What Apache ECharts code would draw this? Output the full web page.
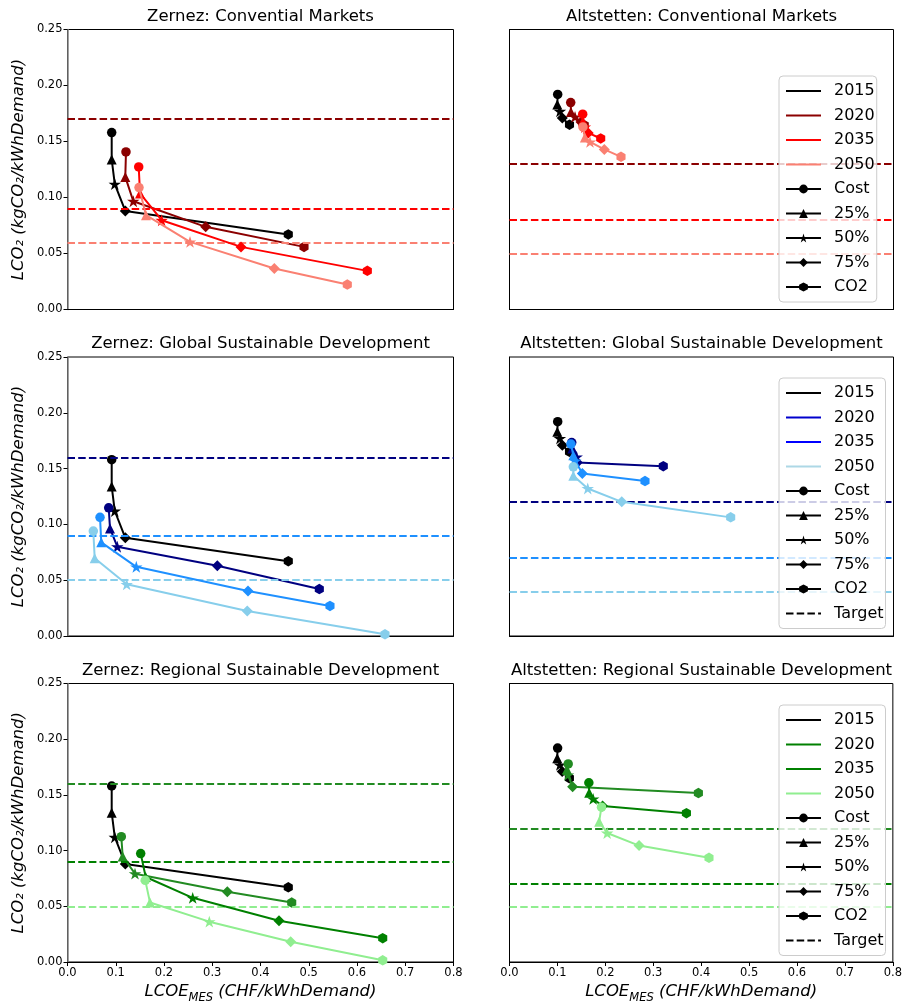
<!DOCTYPE html>
<html><head><meta charset="utf-8">
<script src="https://cdn.jsdelivr.net/npm/echarts@6/dist/echarts.min.js"></script>
<style>html,body{margin:0;padding:0;background:#fff}#c{width:905px;height:1005px}</style>
</head><body><div id="c"></div>
<script>
// ---------- data ----------
const years = ['2015', '2020', '2035', '2050'];
const steps = ['Cost', '25%', '50%', '75%', 'CO2'];
const xTicks = [0, 0.1, 0.2, 0.3, 0.4, 0.5, 0.6, 0.7, 0.8];
const yTicks = [0, 0.05, 0.10, 0.15, 0.20, 0.25];
const titles = [
  'Zernez: Convential Markets', 'Altstetten: Conventional Markets',
  'Zernez: Global Sustainable Development', 'Altstetten: Global Sustainable Development',
  'Zernez: Regional Sustainable Development', 'Altstetten: Regional Sustainable Development'
];

// points [LCOE, LCO2] in order Cost, 25%, 50%, 75%, CO2
const zernez2015 = [[0.0916,0.158],[0.0916,0.134],[0.098,0.112],[0.1198,0.088],[0.4576,0.067]];
const altstetten2015 = [[0.1004,0.192],[0.0996,0.183],[0.105,0.177],[0.110,0.171],[0.125,0.165]];

const zernezConv2020 = [[0.1212,0.1407],[0.1198,0.1184],[0.1364,0.0967],[0.2864,0.0738],[0.4902,0.0559]];
const zernezConv2035 = [[0.1476,0.1273],[0.1503,0.1036],[0.1952,0.0797],[0.3596,0.0559],[0.6214,0.0345]];
const zernezConv2050 = [[0.1482,0.1089],[0.1627,0.0842],[0.2539,0.0604],[0.4286,0.0366],[0.5799,0.0223]];
const zernezConvTargets = [0.1675, 0.0938, 0.0583];

const altConv2020 = [[0.1275,0.1848],[0.128,0.1764],[0.1365,0.172],[0.149,0.1675],[0.1558,0.1646]];
const altConv2035 = [[0.1525,0.1744],[0.153,0.168],[0.157,0.163],[0.164,0.1577],[0.190,0.1527]];
const altConv2050 = [[0.153,0.163],[0.157,0.1536],[0.1677,0.1497],[0.1975,0.1429],[0.2323,0.1363]];
const altConvTargets = [0.1324, 0.0795, 0.0496];

const zernezGlob2020 = [[0.0854,0.1149],[0.0881,0.0964],[0.1032,0.080],[0.3105,0.0629],[0.5219,0.0421]];
const zernezGlob2035 = [[0.0674,0.1063],[0.070,0.0839],[0.1426,0.062],[0.3741,0.0403],[0.544,0.0269]];
const zernezGlob2050 = [[0.0535,0.094],[0.0564,0.0696],[0.1227,0.0463],[0.3726,0.0224],[0.658,0.0015]];
const zernezGlobTargets = [0.157, 0.0866, 0.048];

const altGlob2020 = [[0.1296,0.1734],[0.131,0.168],[0.140,0.1605],[0.1413,0.1555],[0.3204,0.1522]];
const altGlob2035 = [[0.128,0.172],[0.133,0.162],[0.137,0.157],[0.1517,0.1456],[0.2823,0.1388]];
const altGlob2050 = [[0.133,0.1516],[0.133,0.1435],[0.163,0.1322],[0.2338,0.1202],[0.4608,0.1063]];
const altGlobTargets = [0.1233, 0.0701, 0.0391];

const zernezReg2020 = [[0.1115,0.1125],[0.1144,0.0947],[0.1399,0.0793],[0.3312,0.063],[0.4647,0.0534]];
const zernezReg2035 = [[0.1517,0.0973],[0.1621,0.0763],[0.2595,0.0576],[0.4383,0.0371],[0.6533,0.0214]];
const zernezReg2050 = [[0.1612,0.0733],[0.171,0.0534],[0.2939,0.0362],[0.4626,0.0181],[0.6533,0.0015]];
const zernezRegTargets = [0.156, 0.0884, 0.050];

const altReg2020 = [[0.1225,0.1778],[0.120,0.1728],[0.122,0.168],[0.1317,0.1573],[0.3942,0.1516]];
const altReg2035 = [[0.1656,0.1609],[0.1663,0.152],[0.1746,0.1464],[0.1942,0.140],[0.3692,0.1336]];
const altReg2050 = [[0.192,0.139],[0.187,0.126],[0.2038,0.1158],[0.2704,0.1045],[0.4163,0.0935]];
const altRegTargets = [0.1244, 0.0736, 0.046];

// ---------- styles ----------
const redColors = ['#000000', '#8b0000', '#ff0000', '#fa8072'];
const blueColors = ['#000000', '#000080', '#1e90ff', '#87ceeb'];
const greenColors = ['#000000', '#228b22', '#008000', '#90ee90'];
const redLegend = ['#000000', '#8b0000', '#ff0000', '#fa8072'];
const blueLegend = ['#000000', '#0000cd', '#0000ff', '#add8e6'];
const greenLegend = ['#000000', '#008000', '#008000', '#90ee90'];

const STAR = 'path://M0,-1L0.2245,-0.309L0.9511,-0.309L0.3633,0.118L0.5878,0.809L0,0.382L-0.5878,0.809L-0.3633,0.118L-0.9511,-0.309L-0.2245,-0.309Z';
const HEX = 'path://M0,-1L0.866,-0.5L0.866,0.5L0,1L-0.866,0.5L-0.866,-0.5Z';
const SYMBOLS = ['circle', 'triangle', STAR, 'diamond', HEX];
const SIZES = [9.5, 10, 12.5, 11, 10.5];
const DASH = [7.5, 3.2];
const FONT = 'DejaVu Sans';

const panels = [
  { data: [zernez2015, zernezConv2020, zernezConv2035, zernezConv2050], targets: zernezConvTargets, colors: redColors },
  { data: [altstetten2015, altConv2020, altConv2035, altConv2050], targets: altConvTargets, colors: redColors, legend: redLegend, target: false },
  { data: [zernez2015, zernezGlob2020, zernezGlob2035, zernezGlob2050], targets: zernezGlobTargets, colors: blueColors },
  { data: [altstetten2015, altGlob2020, altGlob2035, altGlob2050], targets: altGlobTargets, colors: blueColors, legend: blueLegend, target: true },
  { data: [zernez2015, zernezReg2020, zernezReg2035, zernezReg2050], targets: zernezRegTargets, colors: greenColors },
  { data: [altstetten2015, altReg2020, altReg2035, altReg2050], targets: altRegTargets, colors: greenColors, legend: greenLegend, target: true }
];

const gridTops = [29.5, 357, 683.5];
const gridHeights = [280, 279, 280.5];
const gridLefts = [67.5, 509.5];
const gridWidths = [386, 384];
const legendTops = [76, 378, 705];

const grids = [], xAxes = [], yAxes = [], series = [], legends = [], graphics = [];

panels.forEach((p, gi) => {
  const row = Math.floor(gi / 2), col = gi % 2;
  const bottom = row === 2, left = col === 0;
  grids.push({ left: gridLefts[col], top: gridTops[row], width: gridWidths[col], height: gridHeights[row],
    show: true, borderColor: '#000', borderWidth: 1, backgroundColor: 'transparent' });
  xAxes.push({
    type: 'value', gridIndex: gi, min: xTicks[0], max: xTicks[xTicks.length - 1], interval: 0.1,
    axisLine: { show: true, onZero: false, lineStyle: { color: '#000', width: 1 } },
    axisTick: { show: bottom, length: 4, lineStyle: { color: '#000' } },
    axisLabel: { show: bottom, formatter: v => v.toFixed(1), fontSize: 11.5, color: '#000', fontFamily: FONT, margin: 5 },
    splitLine: { show: false },
    name: bottom ? '{a|LCOE}{b|MES}{a| (CHF/kWhDemand)}' : '',
    nameLocation: 'middle', nameGap: 21,
    nameTextStyle: { rich: {
      a: { fontSize: 16.5, fontStyle: 'italic', fontFamily: FONT, color: '#000', verticalAlign: 'top' },
      b: { fontSize: 11.5, fontStyle: 'italic', fontFamily: FONT, color: '#000', verticalAlign: 'bottom', padding: [9, 0, 0, 0] }
    } }
  });
  yAxes.push({
    type: 'value', gridIndex: gi, min: yTicks[0], max: yTicks[yTicks.length - 1], interval: 0.05,
    axisLine: { show: true, onZero: false, lineStyle: { color: left ? '#808080' : '#000', width: left ? 1.5 : 1 } },
    axisTick: { show: left, length: 4, lineStyle: { color: '#000' } },
    axisLabel: { show: left, formatter: v => v.toFixed(2), fontSize: 11.5, color: '#000', fontFamily: FONT, margin: 5 },
    splitLine: { show: false },
    name: left ? 'LCO\u2082 (kgCO\u2082/kWhDemand)' : '',
    nameLocation: 'middle', nameGap: 40,
    nameTextStyle: { fontSize: 16.5, fontStyle: 'italic', fontFamily: FONT, color: '#000' }
  });

  // data series per year
  p.data.forEach((pts, k) => {
    const c = p.colors[k];
    const s = {
      type: 'line', name: 'P' + gi + '_' + years[k], xAxisIndex: gi, yAxisIndex: gi,
      data: pts.map((pt, i) => ({ value: pt, symbol: SYMBOLS[i], symbolSize: SIZES[i] })),
      symbolKeepAspect: true, showSymbol: true,
      lineStyle: { color: c, width: 2 }, itemStyle: { color: c, borderWidth: 0 },
      emphasis: { disabled: true }, silent: true, z: 3 + k
    };
    if (k > 0) {
      s.markLine = {
        silent: true, symbol: ['none', 'none'], label: { show: false },
        lineStyle: { color: c, width: 1.8, type: DASH },
        emphasis: { disabled: true },
        data: [{ yAxis: p.targets[k - 1] }]
      };
    }
    series.push(s);
  });

  // title
  graphics.push({ type: 'text', x: gridLefts[col] + gridWidths[col] / 2, y: gridTops[row] - 13,
    style: { text: titles[gi], font: '16.5px "DejaVu Sans"', fill: '#000', textAlign: 'center', textVerticalAlign: 'middle' } });

  // legend
  if (p.legend) {
    const prefix = 'L' + gi + '|';
    const items = [];
    years.forEach((y, k) => {
      items.push({ name: prefix + y, itemStyle: { opacity: 0 } });
      series.push({ type: 'line', name: prefix + y, xAxisIndex: gi, yAxisIndex: gi, data: [], symbol: 'none',
        lineStyle: { color: p.legend[k], width: 2 }, itemStyle: { color: p.legend[k] } });
    });
    steps.forEach((st, i) => {
      items.push({ name: prefix + st });
      series.push({ type: 'line', name: prefix + st, xAxisIndex: gi, yAxisIndex: gi, data: [], symbol: SYMBOLS[i],
        symbolKeepAspect: true, lineStyle: { color: '#000', width: 2 }, itemStyle: { color: '#000' } });
    });
    if (p.target) {
      items.push({ name: prefix + 'Target', itemStyle: { opacity: 0 } });
      series.push({ type: 'line', name: prefix + 'Target', xAxisIndex: gi, yAxisIndex: gi, data: [], symbol: 'none',
        lineStyle: { color: '#000', width: 2, type: DASH }, itemStyle: { color: '#000' } });
    }
    legends.push({
      data: items, orient: 'vertical', left: 779, top: legendTops[row],
      itemWidth: 35, itemHeight: 11, itemGap: 8.5, selectedMode: false,
      formatter: n => n.split('|')[1],
      textStyle: { fontSize: 16, fontFamily: FONT, color: '#000', padding: [0, 0, 0, 8] },
      backgroundColor: 'rgba(255,255,255,0.8)', borderColor: '#cccccc', borderWidth: 1, borderRadius: 4,
      padding: [7, 2, 7, 6], z: 10
    });
  }
});

const chart = echarts.init(document.getElementById('c'), null, { renderer: 'canvas' });
chart.setOption({
  animation: false,
  backgroundColor: '#fff',
  grid: grids, xAxis: xAxes, yAxis: yAxes, series: series, legend: legends,
  graphic: graphics
});
</script></body></html>
